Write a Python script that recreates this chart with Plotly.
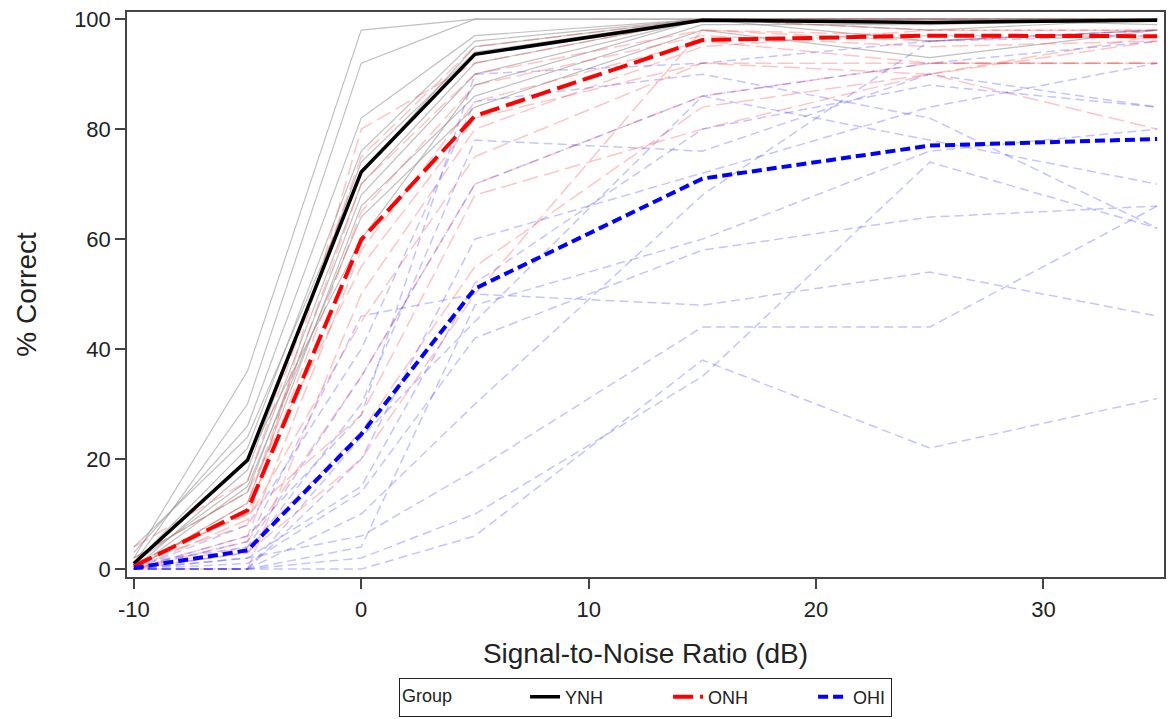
import plotly.graph_objects as go

snr = [-10, -5, 0, 5, 15, 25, 35]

# Group means
ynh_mean = [1, 19.8, 72.2, 93.6, 99.8, 99.4, 99.8]
onh_mean = [0.5, 10.7, 59.9, 82.4, 96.2, 97.0, 96.9]
ohi_mean = [0.2, 3.4, 24.5, 51.0, 71.0, 77.0, 78.2]

# Individual listeners
ynh_ind = [
    [2, 36, 98, 100, 100, 100, 100],
    [1, 30, 92, 100, 100, 100, 100],
    [3, 26, 82, 97, 100, 100, 100],
    [1, 22, 76, 96, 100, 100, 100],
    [0, 18, 74, 94, 100, 98, 100],
    [1, 16, 70, 92, 100, 100, 100],
    [2, 14, 68, 90, 100, 100, 99],
    [0, 12, 66, 86, 99, 99, 100],
    [1, 20, 60, 88, 100, 96, 98],
    [0, 15, 64, 84, 98, 93, 98],
    [4, 24, 72, 95, 100, 100, 100],
]
onh_ind = [
    [1, 8, 80, 92, 100, 100, 100],
    [4, 16, 75, 95, 100, 98, 98],
    [0, 12, 70, 90, 98, 97, 97],
    [1, 10, 65, 88, 97, 95, 96],
    [0, 6, 58, 85, 96, 92, 92],
    [2, 14, 55, 82, 92, 92, 92],
    [0, 0, 50, 80, 95, 98, 98],
    [0, 9, 45, 75, 92, 90, 80],
    [0, 5, 35, 70, 86, 92, 92],
    [1, 10, 28, 68, 80, 90, 96],
    [0, 3, 20, 50, 98, 96, 98],
    [0, 4, 25, 55, 84, 90, 97],
]
ohi_ind = [
    [0, 0, 0, 6, 38, 22, 31],
    [0, 0, 2, 10, 35, 74, 62],
    [0, 2, 6, 18, 44, 44, 66],
    [0, 1, 14, 42, 58, 64, 66],
    [0, 5, 46, 50, 48, 54, 46],
    [0, 0, 20, 60, 72, 84, 92],
    [0, 3, 30, 78, 76, 90, 84],
    [0, 0, 24, 45, 86, 78, 70],
    [1, 4, 35, 70, 86, 92, 96],
    [0, 8, 40, 85, 90, 82, 62],
    [0, 2, 15, 52, 80, 88, 84],
    [0, 0, 10, 30, 68, 96, 97],
    [0, 6, 28, 90, 92, 96, 98],
    [0, 0, 4, 48, 60, 76, 80],
]

groups = ["YNH", "ONH", "OHI"]
x_ticks = [-10, 0, 10, 20, 30]
x_tick_text = ["-10", "0", "10", "20", "30"]
y_ticks = [0, 20, 40, 60, 80, 100]

NB = "\u00a0"
legend_names = [groups[0] + NB * 12, groups[1] + NB * 12, groups[2]]

fig = go.Figure()

for ys in ynh_ind:
    fig.add_trace(go.Scatter(x=snr, y=ys, mode="lines", showlegend=False, hoverinfo="skip",
                             line=dict(color="rgba(150,150,150,0.6)", width=1.2)))
for ys in onh_ind:
    fig.add_trace(go.Scatter(x=snr, y=ys, mode="lines", showlegend=False, hoverinfo="skip",
                             line=dict(color="rgba(255,60,60,0.3)", width=1.5, dash="16px,6px")))
for ys in ohi_ind:
    fig.add_trace(go.Scatter(x=snr, y=ys, mode="lines", showlegend=False, hoverinfo="skip",
                             line=dict(color="rgba(60,60,255,0.3)", width=1.5, dash="9px,5px")))

fig.add_trace(go.Scatter(x=snr, y=ynh_mean, mode="lines", name=legend_names[0],
                         line=dict(color="black", width=3.5)))
fig.add_trace(go.Scatter(x=snr, y=onh_mean, mode="lines", name=legend_names[1],
                         line=dict(color="red", width=4, dash="20px,7px")))
fig.add_trace(go.Scatter(x=snr, y=ohi_mean, mode="lines", name=legend_names[2],
                         line=dict(color="blue", width=4, dash="10px,5px")))

axis_common = dict(showgrid=False, zeroline=False, showline=True, mirror=True,
                   linecolor="#444", linewidth=1.5, ticks="outside", ticklen=10,
                   tickwidth=1.5, tickcolor="#444",
                   tickfont=dict(size=22, color="#222"))

fig.update_layout(
    width=1168, height=719,
    paper_bgcolor="white", plot_bgcolor="white",
    font=dict(family="Arial, Liberation Sans, sans-serif", color="#222"),
    margin=dict(l=127, r=2, t=12, b=141),
    xaxis=dict(range=[-10.3, 35.3], tickvals=x_ticks, ticktext=x_tick_text,
               ticklabelstandoff=2,
               title=dict(text="Signal-to-Noise Ratio (dB)", font=dict(size=28), standoff=22),
               **axis_common),
    yaxis=dict(range=[-1.45, 101.3], tickvals=y_ticks,
               title=dict(text="% Correct", font=dict(size=28), standoff=29),
               **axis_common),
    legend=dict(orientation="h", x=0.5, xanchor="center", y=-0.247, yanchor="bottom",
                bordercolor="#222", borderwidth=1, bgcolor="white",
                title=dict(text="Group" + NB * 13, font=dict(size=18)),
                font=dict(size=18), tracegroupgap=0),
)

fig.write_html("out.html", config={"displayModeBar": False},
               post_script="document.body.style.margin='0';document.body.style.overflow='hidden';")
